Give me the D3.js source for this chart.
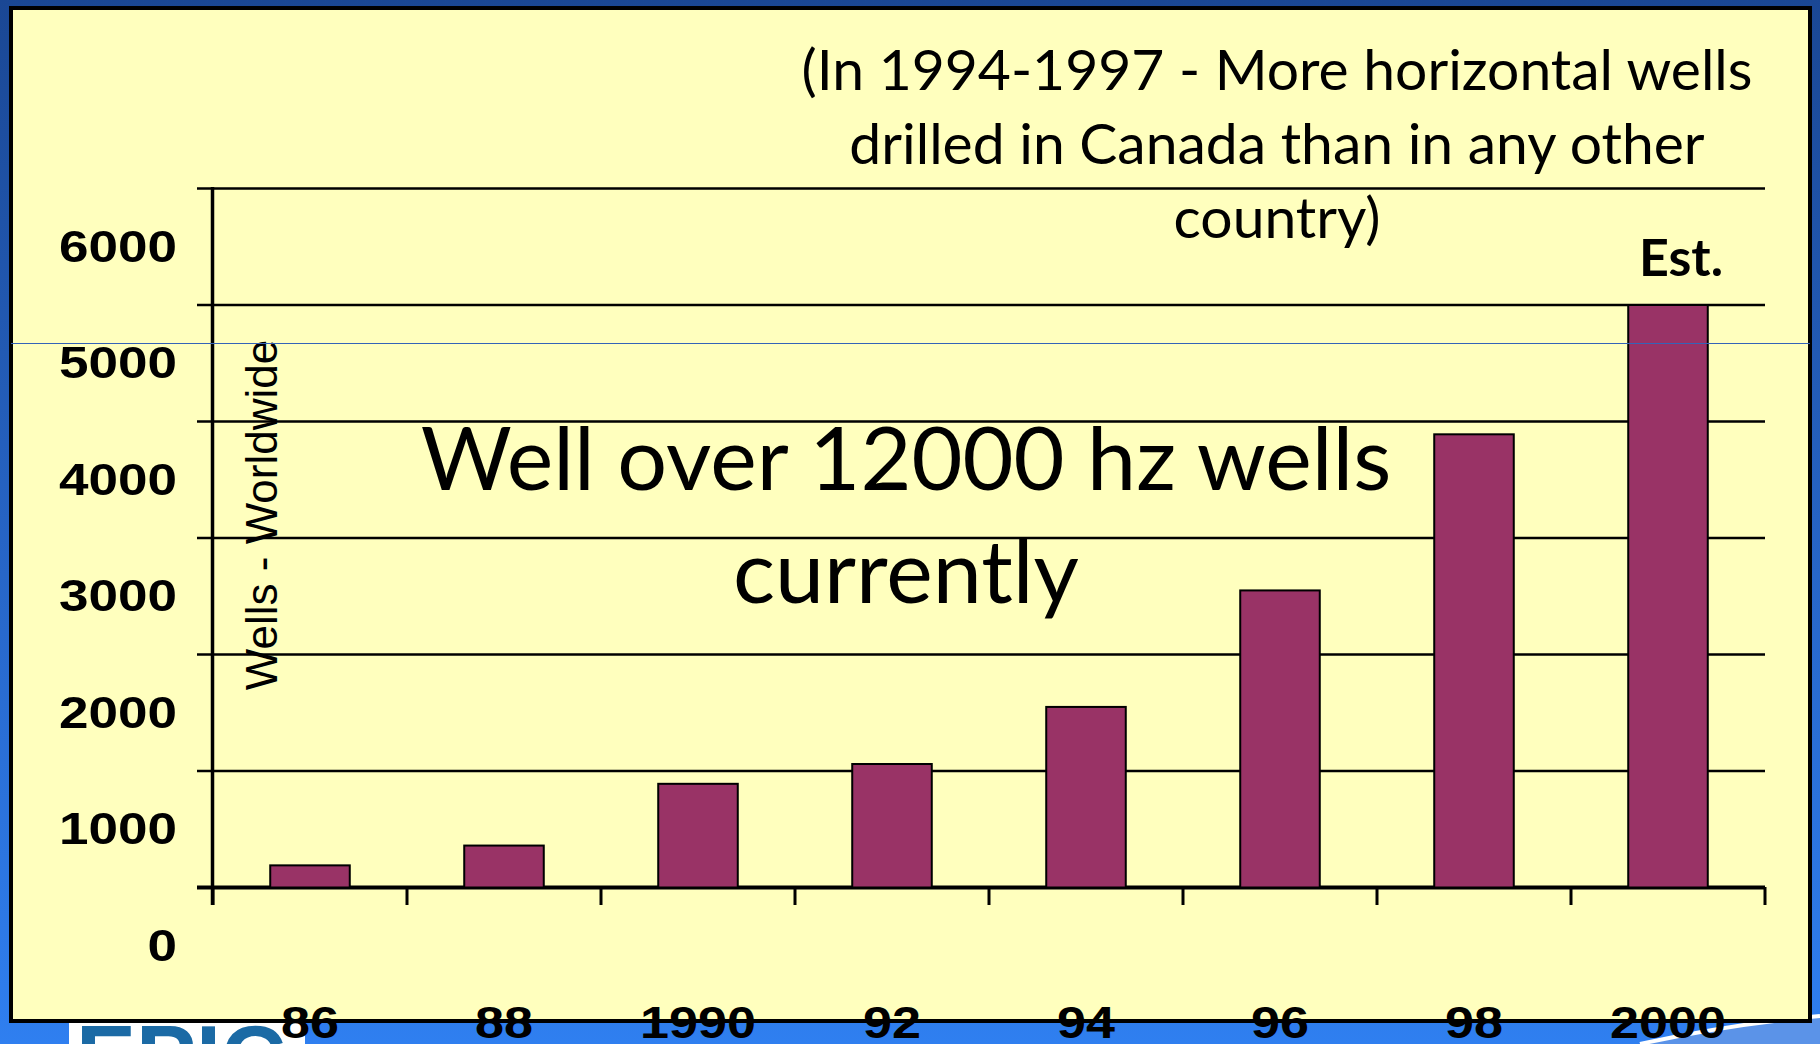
<!DOCTYPE html>
<html>
<head>
<meta charset="utf-8">
<script src="https://cdn.jsdelivr.net/npm/d3@7"></script>
<style>
  html, body { margin: 0; padding: 0; overflow: hidden; }
  svg { display: block; }
</style>
</head>
<body>
<script>
    // values
    const years = ["86", "88", "1990", "92", "94", "96", "98", "2000"];
    const wells = [190, 360, 890, 1060, 1550, 2550, 3890, 5000];
    const yTicks = [0, 1000, 2000, 3000, 4000, 5000, 6000];
    const noteLines = ["(In 1994-1997 - More horizontal wells", "drilled in Canada than in any other", "country)"];
    const bigLines = ["Well over 12000 hz wells", "currently"];

    const W = 1820, H = 1044;
    const svg = d3.select('body').append('svg')
        .attr('width', W)
        .attr('height', H);

    // blue slide background
    let defs = svg.append('defs');
    let grad = defs.append('linearGradient')
        .attr('id', 'bg')
        .attr('x1', 0).attr('y1', 0).attr('x2', 0).attr('y2', 1);
    grad.append('stop').attr('offset', '0%').attr('stop-color', '#1a4794');
    grad.append('stop').attr('offset', '55%').attr('stop-color', '#2766c8');
    grad.append('stop').attr('offset', '100%').attr('stop-color', '#2f7ff0');
    svg.append('rect').attr('width', W).attr('height', H).attr('fill', 'url(#bg)');

    // swoosh bottom right
    svg.append('path')
        .attr('d', 'M1640,1044 Q1730,1024 1820,1016 L1820,1044 Z')
        .attr('fill', '#5b93e8');
    svg.append('path')
        .attr('d', 'M1640,1044 Q1730,1024 1820,1016')
        .attr('fill', 'none')
        .attr('stroke', '#ffffff')
        .attr('stroke-width', 4);

    // logo peeking at the bottom
    svg.append('rect').attr('x', 69).attr('y', 1022).attr('width', 236).attr('height', 22).attr('fill', '#ffffff');
    svg.append('text')
        .attr('x', 76).attr('y', 1089)
        .style('font-family', 'Liberation Sans, Arial, sans-serif')
        .style('font-weight', 'bold')
        .style('font-size', '90px')
        .attr('fill', '#1b6aa5')
        .text('EPIC');

    // yellow panel
    svg.append('rect')
        .attr('x', 11).attr('y', 8)
        .attr('width', 1799).attr('height', 1013)
        .attr('fill', '#ffffbe')
        .attr('stroke', '#000')
        .attr('stroke-width', 4);

    const x = d3.scaleBand()
        .domain(years)
        .range([213, 1765])
        .paddingInner(0.59)
        .paddingOuter(0.295);
    const y = d3.scaleLinear()
        .domain([0, 6000])
        .range([887.5, 188.5]);

    // gridlines
    svg.append('g')
        .selectAll('line')
        .data(yTicks)
        .enter()
        .append('line')
        .attr('x1', 197)
        .attr('x2', 1765)
        .attr('y1', (d) => y(d))
        .attr('y2', (d) => y(d))
        .attr('stroke', '#000')
        .attr('stroke-width', (d) => d === 0 ? 4 : 2.5);

    // bars
    svg.append('g')
        .selectAll('rect')
        .data(wells)
        .enter()
        .append('rect')
        .attr('x', (d, i) => x(years[i]))
        .attr('y', (d) => y(d))
        .attr('width', x.bandwidth())
        .attr('height', (d) => y(0) - y(d))
        .attr('fill', '#993366')
        .attr('stroke', '#000')
        .attr('stroke-width', 2);

    // axis lines and x ticks
    svg.append('line')
        .attr('x1', 212.5).attr('x2', 212.5)
        .attr('y1', 187).attr('y2', 905)
        .attr('stroke', '#000').attr('stroke-width', 3.5);
    let bounds = years.map((d) => x(d) - x.step() * x.paddingOuter());
    bounds.push(x.range()[1]);
    svg.append('g')
        .selectAll('line')
        .data(bounds)
        .enter()
        .append('line')
        .attr('x1', (d) => d).attr('x2', (d) => d)
        .attr('y1', 887).attr('y2', 905)
        .attr('stroke', '#000').attr('stroke-width', 3);

    // y labels (sit half a step below their gridline, as on the slide)
    svg.append('g')
        .selectAll('text')
        .data(yTicks)
        .enter()
        .append('text')
        .attr('x', 177)
        .attr('y', (d) => y(d) + 73)
        .attr('text-anchor', 'end')
        .style('font-family', 'Liberation Sans, Arial, sans-serif')
        .style('font-weight', 'bold')
        .style('font-size', '44px')
        .attr('textLength', (d) => String(d).length * 29.5)
        .attr('lengthAdjust', 'spacingAndGlyphs')
        .text((d) => d);

    svg.append('text')
        .attr('transform', 'translate(277, 515) rotate(-90)')
        .attr('text-anchor', 'middle')
        .style('font-family', 'Liberation Sans, Arial, sans-serif')
        .style('font-size', '44px')
        .text('Wells - Worldwide');

    // annotations
    svg.append('g')
        .selectAll('text')
        .data(noteLines)
        .enter()
        .append('text')
        .attr('x', 1277)
        .attr('y', (d, i) => 90 + i * 74)
        .attr('text-anchor', 'middle')
        .style('font-family', 'Lato, sans-serif')
        .style('font-size', '57px')
        .text((d) => d);

    svg.append('g')
        .selectAll('text')
        .data(bigLines)
        .enter()
        .append('text')
        .attr('x', 906)
        .attr('y', (d, i) => 490 + i * 113)
        .attr('text-anchor', 'middle')
        .style('font-family', 'Lato, sans-serif')
        .style('font-size', '88px')
        .text((d) => d);

    svg.append('text')
        .attr('x', 1681)
        .attr('y', 276)
        .attr('text-anchor', 'middle')
        .style('font-family', 'Lato, sans-serif')
        .style('font-weight', 'bold')
        .style('font-size', '52px')
        .text('Est.');

    // thin guide line across the slide
    svg.append('line')
        .attr('x1', 11).attr('x2', 1810)
        .attr('y1', 343.5).attr('y2', 343.5)
        .attr('stroke', '#3463b8').attr('stroke-width', 1.2);

    // x labels, drawn over the panel edge
    svg.append('g')
        .selectAll('text')
        .data(years)
        .enter()
        .append('text')
        .attr('x', (d) => x(d) + x.bandwidth() / 2)
        .attr('y', 1038)
        .attr('text-anchor', 'middle')
        .style('font-family', 'Liberation Sans, Arial, sans-serif')
        .style('font-weight', 'bold')
        .style('font-size', '44px')
        .attr('textLength', (d) => d.length * 29)
        .attr('lengthAdjust', 'spacingAndGlyphs')
        .text((d) => d);
</script>
</body>
</html>
